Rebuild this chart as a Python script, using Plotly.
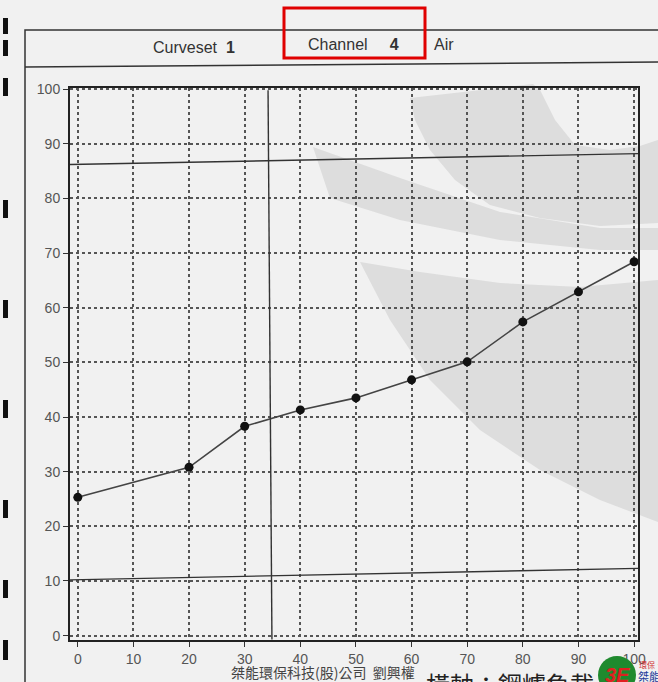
import plotly.graph_objects as go

# ---- data ----
load_pct = [0, 20, 30, 40, 50, 60, 70, 80, 90, 100]
values = [25.3, 30.8, 38.3, 41.3, 43.5, 46.8, 50.1, 57.4, 62.9, 68.4]
x_ticks = [0, 10, 20, 30, 40, 50, 60, 70, 80, 90, 100]
y_ticks = [0, 10, 20, 30, 40, 50, 60, 70, 80, 90, 100]
upper_limit = [86.2, 88.2]   # left / right end (scan is slightly tilted)
lower_limit = [10.2, 12.3]
limit_x = [-1.4, 100.7]
marker_x = [34.2, 34.9]      # vertical cursor, top / bottom
marker_y = [99.8, -0.7]

W, H = 658, 682
L, R, T, B = 70, 20, 88, 42
pw, ph = W - L - R, H - T - B

def px(x):
    return (x - L) / pw

def py(y):
    return (H - B - y) / ph

def path(points):
    return "M " + " L ".join(f"{px(x):.4f},{py(y):.4f}" for x, y in points) + " Z"

fig = go.Figure()

fig.add_trace(go.Scatter(
    x=load_pct, y=values, mode="lines+markers",
    line=dict(color="#444", width=1.6),
    marker=dict(color="#111", size=9),
    showlegend=False, hoverinfo="skip"))

# limit lines and cursor
fig.add_trace(go.Scatter(x=limit_x, y=upper_limit, mode="lines",
                         line=dict(color="#333", width=1.4), showlegend=False, hoverinfo="skip"))
fig.add_trace(go.Scatter(x=limit_x, y=lower_limit, mode="lines",
                         line=dict(color="#333", width=1.4), showlegend=False, hoverinfo="skip"))
fig.add_trace(go.Scatter(x=marker_x, y=marker_y, mode="lines",
                         line=dict(color="#333", width=1.4), showlegend=False, hoverinfo="skip"))

wm = "rgba(150,150,150,0.22)"
shapes = []
# watermark: page-curl region at top
shapes.append(dict(type="path", xref="paper", yref="paper", layer="below",
                   path=path([(410, 98), (533, 84), (540, 90), (555, 120), (575, 145), (610, 150),
                              (640, 146), (658, 140), (658, 223), (600, 226), (540, 218),
                              (490, 205), (455, 180), (430, 150), (415, 120)]),
                   fillcolor=wm, line=dict(width=0)))
# watermark: middle band
shapes.append(dict(type="path", xref="paper", yref="paper", layer="below",
                   path=path([(313, 147), (400, 178), (500, 212), (600, 228), (658, 228),
                              (658, 250), (600, 250), (500, 240), (400, 220), (330, 198)]),
                   fillcolor=wm, line=dict(width=0)))
# watermark: large lower region
shapes.append(dict(type="path", xref="paper", yref="paper", layer="below",
                   path=path([(360, 262), (420, 272), (500, 283), (580, 287), (658, 280),
                              (658, 522), (600, 500), (540, 470), (480, 430), (430, 380),
                              (390, 320)]),
                   fillcolor=wm, line=dict(width=0)))

# outer page frame & header band
shapes.append(dict(type="rect", xref="paper", yref="paper",
                   x0=px(25), x1=px(668), y0=py(695), y1=py(30),
                   line=dict(color="#333", width=1.5)))
shapes.append(dict(type="line", xref="paper", yref="paper",
                   x0=px(25), x1=px(658), y0=py(67), y1=py(62),
                   line=dict(color="#333", width=1.5)))
# red highlight box
shapes.append(dict(type="rect", xref="paper", yref="paper",
                   x0=px(284), x1=px(425), y0=py(58), y1=py(8),
                   line=dict(color="#e00000", width=3)))
# binder marks on left edge
for y0, y1 in [(18, 34), (40, 56), (78, 96), (200, 218), (300, 318), (400, 418),
               (500, 518), (580, 598), (640, 660)]:
    shapes.append(dict(type="rect", xref="paper", yref="paper",
                       x0=px(3), x1=px(8), y0=py(y1), y1=py(y0),
                       fillcolor="#111", line=dict(width=0)))
# logo circle
shapes.append(dict(type="circle", xref="paper", yref="paper",
                   x0=px(598), x1=px(636), y0=py(694), y1=py(656),
                   fillcolor="#1f8a2e", line=dict(width=0)))

def ann(text, x, y, size, color, family="Liberation Sans", xa="center", ya="middle"):
    return dict(text=text, x=px(x), y=py(y), xanchor=xa, yanchor=ya, showarrow=False,
                xref="paper", yref="paper", font=dict(size=size, color=color, family=family))

cjk = "Noto Sans CJK TC"
annotations = [
    ann("Curveset  <b>1</b>", 194, 47, 16, "#333"),
    ann("Channel     <b>4</b>", 353, 44, 16, "#333"),
    ann("Air", 444, 44, 16, "#333"),
    ann("桀能環保科技(股)公司  劉興權", 323, 672, 14, "#444", cjk),
    ann("橫軸：鋼爐負載", 424, 664, 24, "#222", cjk, xa="left", ya="top"),
    ann("<b><i>3E</i></b>", 617, 675, 20, "#e02020"),
    ann("環保·", 637, 664, 8, "#d03030", cjk, xa="left"),
    ann("桀能", 636, 676, 11, "#1a3a9a", cjk, xa="left"),
]

fig.update_layout(
    width=W, height=H,
    margin=dict(l=L, r=R, t=T, b=B),
    paper_bgcolor="#f1f1f1",
    plot_bgcolor="rgba(0,0,0,0)",
    shapes=shapes,
    annotations=annotations,
    showlegend=False,
    xaxis=dict(range=[-1.4, 100.7], tickvals=x_ticks, ticktext=[str(v) for v in x_ticks],
               showgrid=True, gridcolor="#555", griddash="dot", gridwidth=1.5,
               showline=True, linecolor="#222", linewidth=2, mirror=True,
               ticks="outside", ticklen=5, tickcolor="#333", zeroline=False,
               tickfont=dict(size=14, color="#555", family="Liberation Sans")),
    yaxis=dict(range=[-0.8, 100.2], tickvals=y_ticks, ticktext=[str(v) for v in y_ticks],
               showgrid=True, gridcolor="#555", griddash="dot", gridwidth=1.5,
               showline=True, linecolor="#222", linewidth=2, mirror=True,
               ticks="outside", ticklen=5, tickcolor="#333", zeroline=False,
               tickfont=dict(size=14, color="#555", family="Liberation Sans")),
)

fig.write_html("out.html", config={"displayModeBar": False},
               post_script="document.body.style.margin='0';document.body.style.overflow='hidden';")
